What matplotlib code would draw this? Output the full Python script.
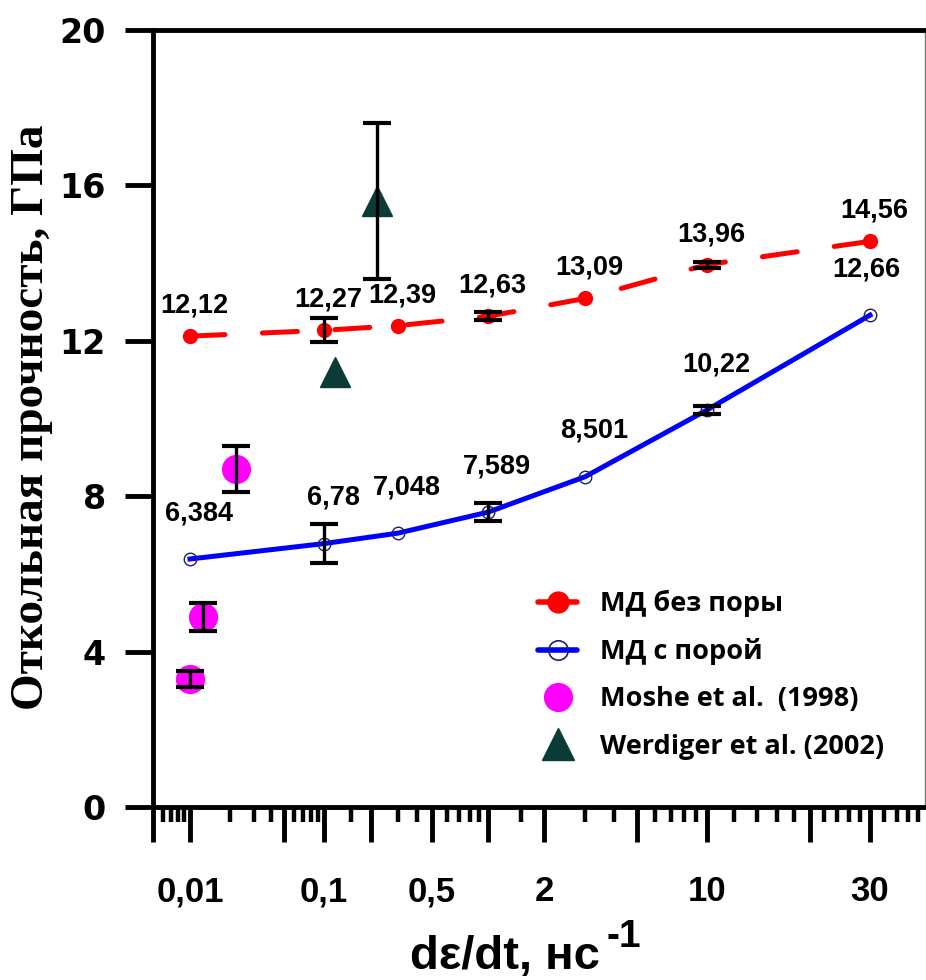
import numpy as np
import matplotlib
matplotlib.use("Agg")
import matplotlib.pyplot as plt
from matplotlib.lines import Line2D

# ---------------- data ----------------
rates = [0.01, 0.1, 0.3, 1, 3, 10, 30]
md_no_pore = [12.12, 12.27, 12.39, 12.63, 13.09, 13.96, 14.56]
md_pore = [6.384, 6.78, 7.048, 7.589, 8.501, 10.22, 12.66]

err_rates = [0.1, 1, 10]
err_no_pore = [0.31, 0.10, 0.08]
err_pore = [0.50, 0.24, 0.10]

moshe_x = [0.01, 0.0125, 0.022]
moshe_y = [3.29, 4.89, 8.70]
moshe_err = [0.20, 0.36, 0.60]

werd_x = [0.118, 0.22]
werd_y = [11.2, 15.6]
werd_err_x = [0.22]
werd_err_y = [15.6]
werd_err = [2.0]

x_major = [0.005, 0.01, 0.05, 0.1, 0.2, 0.5, 1, 2, 5, 10, 20, 30]
x_major_labels = ['', '0,01', '', '0,1', '', '0,5', '', '2', '', '10', '', '30']
x_minor = [0.006, 0.007, 0.008, 0.009, 0.02, 0.03, 0.04, 0.06, 0.07, 0.08, 0.09,
           0.15, 0.3, 0.4, 0.6, 0.7, 0.8, 0.9, 1.5, 3, 4, 6, 7, 8, 9,
           12, 14, 16, 18, 22, 24, 26, 28, 35, 40, 45, 50]
y_ticks = [0, 4, 8, 12, 16, 20]

legend_labels = ['МД без поры', 'МД с порой', 'Moshe et al.  (1998)', 'Werdiger et al. (2002)']

# ---------------- custom (piecewise logarithmic) x scale ----------------
knot_vals = np.log10([0.005, 0.01, 0.1, 0.5, 2, 10, 30, 60])
knot_pos = np.array([153, 190, 324, 432, 544, 707, 870, 935], float)
s_lo = (knot_pos[1] - knot_pos[0]) / (knot_vals[1] - knot_vals[0])
s_hi = (knot_pos[-1] - knot_pos[-2]) / (knot_vals[-1] - knot_vals[-2])


def fwd(x):
    lx = np.log10(np.clip(np.asarray(x, float), 1e-12, None))
    y = np.interp(lx, knot_vals, knot_pos)
    y = np.where(lx < knot_vals[0], knot_pos[0] + (lx - knot_vals[0]) * s_lo, y)
    y = np.where(lx > knot_vals[-1], knot_pos[-1] + (lx - knot_vals[-1]) * s_hi, y)
    return y


def inv(p):
    p = np.asarray(p, float)
    lx = np.interp(p, knot_pos, knot_vals)
    lx = np.where(p < knot_pos[0], knot_vals[0] + (p - knot_pos[0]) / s_lo, lx)
    lx = np.where(p > knot_pos[-1], knot_vals[-1] + (p - knot_pos[-1]) / s_hi, lx)
    return 10 ** lx


W, H = 926, 980
fig = plt.figure(figsize=(W / 100, H / 100), dpi=100)
ax = fig.add_axes([153 / W, 1 - 807 / H, (925 - 153) / W, (807 - 30) / H])
ax.set_xscale('function', functions=(fwd, inv))
ax.set_xlim(0.005, float(inv(925)))
ax.set_ylim(0, 20)

red = '#ff0000'
blue = '#0000ff'
navy = '#1f1f66'
mag = '#ff00ff'
teal = '#0b3b37'

# lines
ax.plot(rates, md_no_pore, color=red, lw=3.6, ls=(0, (7, 7.5)), marker='o', ms=10,
        mfc=red, mec=red, zorder=3, dash_capstyle='round')
ax.plot(rates, md_pore, color=blue, lw=3.6, ls='-', zorder=3)
ax.plot(rates, md_pore, ls='none', marker='o', ms=9, mfc='none', mec=navy, mew=1.0, zorder=4)

# experimental points
ax.plot(moshe_x, moshe_y, ls='none', marker='o', ms=20, mfc=mag, mec=mag, zorder=3)
ax.plot(werd_x, werd_y, ls='none', marker='^', ms=22, mfc=teal, mec=teal, zorder=3)

eb_kw = dict(fmt='none', ecolor='black', elinewidth=2.4, capsize=10, capthick=3, zorder=5)
ax.errorbar(err_rates, [md_no_pore[rates.index(r)] for r in err_rates], yerr=err_no_pore, **eb_kw)
ax.errorbar(err_rates, [md_pore[rates.index(r)] for r in err_rates], yerr=err_pore, **eb_kw)
ax.errorbar(moshe_x, moshe_y, yerr=moshe_err, **eb_kw)
ax.errorbar(werd_err_x, werd_err_y, yerr=werd_err, **eb_kw)

# value labels
lab_font = dict(family=['Liberation Sans', 'DejaVu Sans'], fontsize=19.5, fontweight='bold')
for x, y in zip(rates, md_no_pore):
    ax.annotate(str(y).replace('.', ','), (x, y), xytext=(3, 22), textcoords='offset points',
                ha='center', va='center', **lab_font)
for i, (x, y) in enumerate(zip(rates, md_pore)):
    dx = -3 if i == len(rates) - 1 else 6.5
    ax.annotate(str(y).replace('.', ','), (x, y), xytext=(dx, 33), textcoords='offset points',
                ha='center', va='center', **lab_font)

# axes styling
for sp in ax.spines.values():
    sp.set_linewidth(3.5)
ax.spines['right'].set_linewidth(1.0)
ax.spines['right'].set_color('#777777')

ax.set_xticks(x_major)
ax.set_xticklabels(x_major_labels)
ax.set_xticks(x_minor, minor=True)
ax.set_yticks(y_ticks)
ax.set_yticklabels([str(v) for v in y_ticks])
ax.tick_params(axis='x', which='major', direction='out', length=25, width=3.5, pad=24)
ax.tick_params(axis='x', which='minor', direction='out', length=11, width=3.2)
ax.tick_params(axis='y', which='major', direction='out', length=20, width=3.5, pad=14)
ax.tick_params(axis='y', which='minor', left=False)
for t in ax.get_xticklabels():
    t.set_fontfamily(['Liberation Sans', 'DejaVu Sans'])
    t.set_fontsize(25)
    t.set_fontweight('bold')
for t in ax.get_yticklabels():
    t.set_fontfamily(['DejaVu Sans'])
    t.set_fontsize(24)
    t.set_fontweight('heavy')

# axis titles
xl = fig.text(410 / W, 1 - 969 / H, 'dε/dt, нс', ha='left', va='baseline',
              family=['Liberation Sans', 'DejaVu Sans'], fontsize=34, fontweight='bold')
fig.canvas.draw()
ax.annotate('-1', xy=(1.0, 0.72), xycoords=xl, xytext=(5, 0), textcoords='offset points',
            ha='left', va='baseline', family=['Liberation Sans', 'DejaVu Sans'],
            fontsize=28, fontweight='bold', annotation_clip=False)
fig.text(32 / W, 1 - 417 / H, 'Откольная прочность, ГПа', rotation=90, ha='center', va='center',
         family=['Liberation Serif', 'DejaVu Serif'], fontsize=34, fontweight='bold')

# legend
handles = [
    Line2D([], [], color=red, lw=4, ls='-', marker='o', ms=15, mfc=red, mec=red, solid_capstyle='round'),
    Line2D([], [], color=blue, lw=4, ls='-', marker='o', ms=14, mfc='none', mec=navy, mew=1.2, solid_capstyle='round'),
    Line2D([], [], ls='none', marker='o', ms=20, mfc=mag, mec=mag),
    Line2D([], [], ls='none', marker='^', ms=23, mfc=teal, mec=teal),
]
leg = ax.legend(handles, legend_labels, loc='upper left', bbox_to_anchor=(538 / W, 1 - 590 / H),
                bbox_transform=fig.transFigure, frameon=False, borderaxespad=0, borderpad=0,
                handlelength=1.45, handletextpad=0.85, labelspacing=0.78,
                prop=dict(family=['Open Sans', 'DejaVu Sans'], weight='bold', size=19.5))

fig.savefig('out.png', dpi=100)
